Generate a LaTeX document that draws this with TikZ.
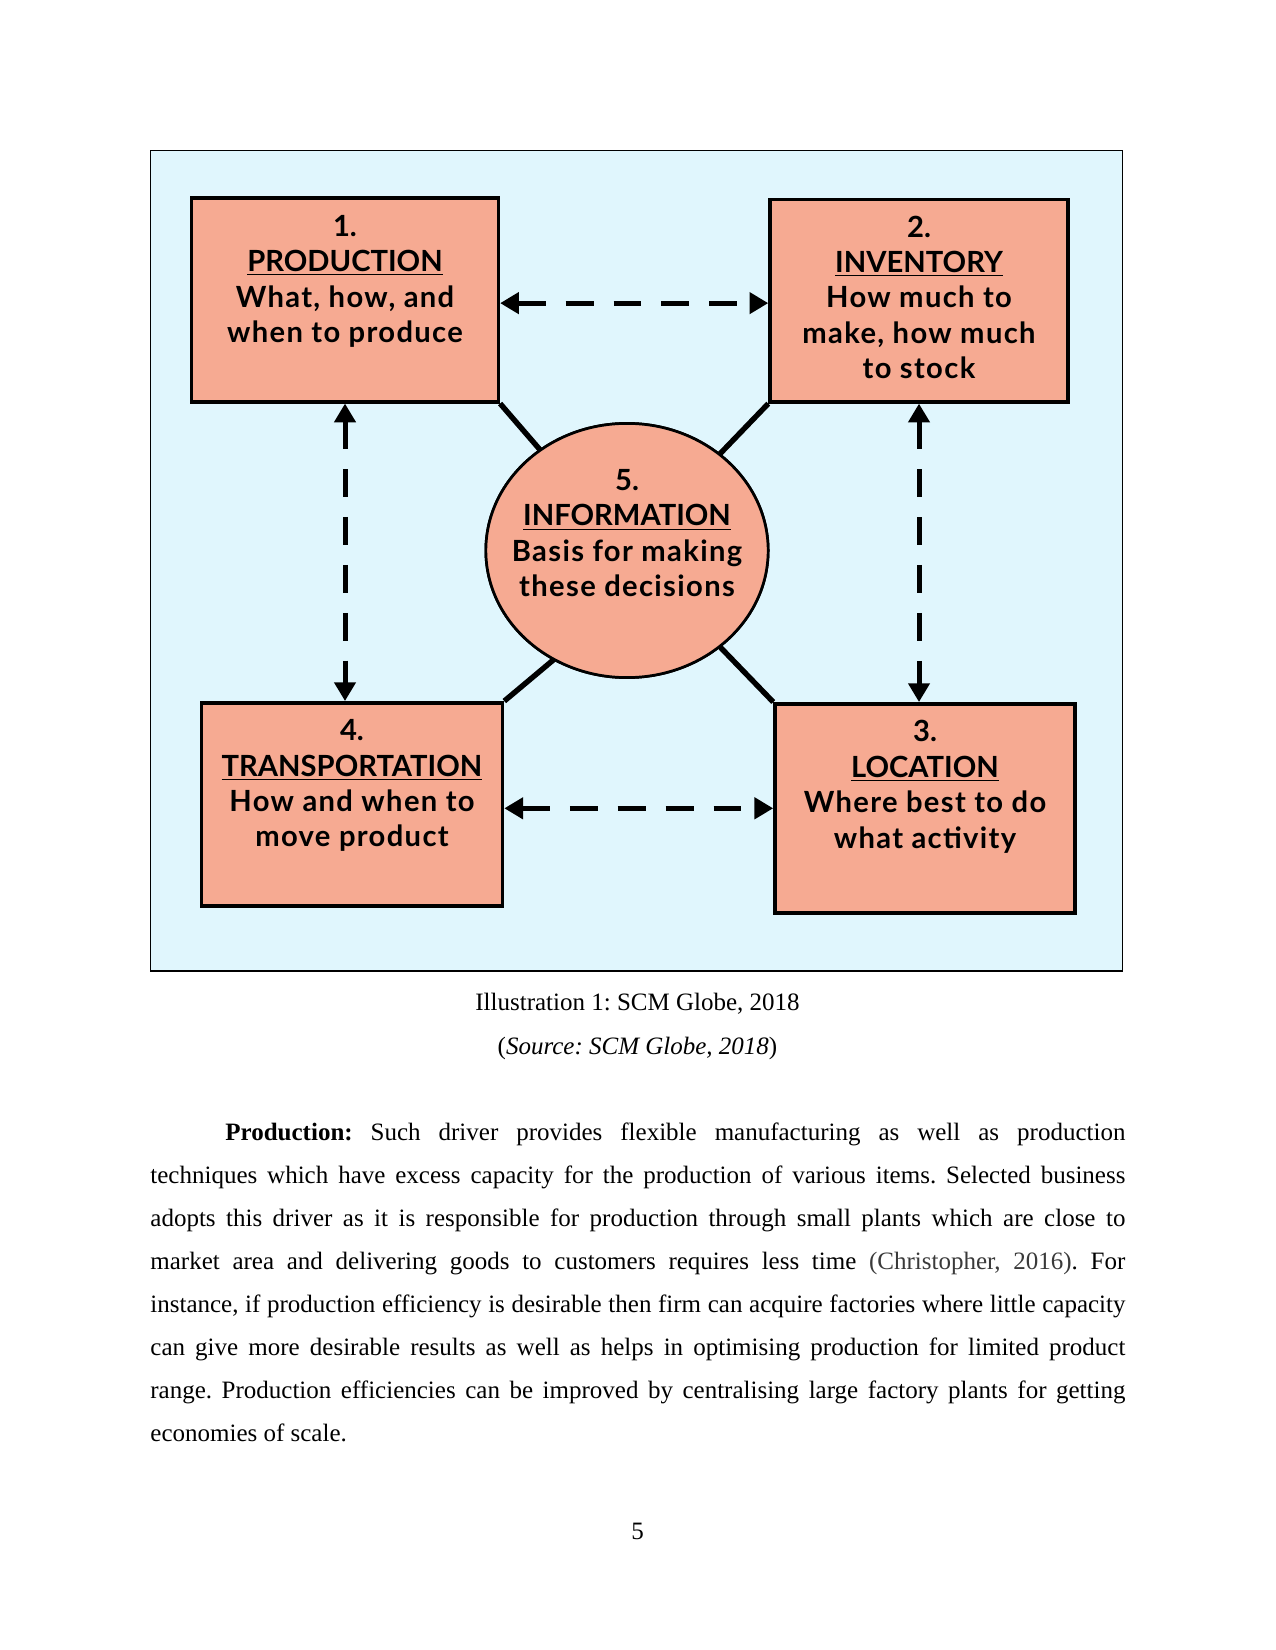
\documentclass[tikz,border=0pt]{standalone}
\usepackage{fontspec}
\setmainfont{Liberation Serif}
\newfontfamily\boxfont{Lato}
\usetikzlibrary{arrows.meta,shapes.geometric}
\definecolor{bgblue}{HTML}{E0F6FD}
\definecolor{salmon}{HTML}{F6AA92}
\definecolor{citegray}{HTML}{3A3A3A}
\newcommand\dsc[1]{{\addfontfeature{LetterSpace=4.6}#1}}
\begin{document}
\frenchspacing
\begin{tikzpicture}[x=0.48pt,y=-0.48pt,
  box/.style={draw=black, line width=1.7pt, fill=salmon, rectangle, inner sep=0pt},
  infocircle/.style={draw=black, line width=1.3pt, fill=salmon, ellipse, inner sep=0pt},
  btext/.style={font=\boxfont\bfseries\fontsize{14}{17}\selectfont, align=center, inner sep=0pt, anchor=north, text=black},
  conn/.style={line width=2.6pt},
  dasharrow/.style={line width=2.4pt, dash pattern=on 13.4pt off 9.6pt,
    {Triangle[length=9pt,width=10pt]}-{Triangle[length=9pt,width=10pt]}},
  ptext/.style={font=\fontsize{12}{14}\selectfont, inner sep=0pt, anchor=base west},
  ctext/.style={font=\fontsize{12}{14}\selectfont, inner sep=0pt, anchor=base}]
\useasboundingbox (0,0) rectangle (1275,1650);
\fill[white] (0,0) rectangle (1275,1650);
% frame
\draw[fill=bgblue, line width=0.8pt] (150.5,150.5) rectangle (1122.5,971);
% boxes
\node[box, minimum width=147.2pt, minimum height=97.9pt] (b1) at (345,299.8) {};
\node[box, minimum width=143pt, minimum height=97.1pt] (b2) at (919,300.7) {};
\node[box, minimum width=144.5pt, minimum height=97.6pt] (b4) at (352,804.5) {};
\node[box, minimum width=144pt, minimum height=100.3pt] (b3) at (925,808.3) {};
\node[infocircle, minimum width=135.5pt, minimum height=122pt] (info) at (627,550.5) {};
% solid connectors to the circle
\draw[conn, shorten >=-6pt] (b1.south east) -- (info);
\draw[conn, shorten >=-6pt] (b2.south west) -- (info);
\draw[conn, shorten >=-6pt] (b4.north east) -- (info.236);
\draw[conn, shorten >=-6pt] (b3.north west) -- (info);
\node[infocircle, minimum width=135.5pt, minimum height=122pt] (info2) at (info.center) {};
% texts
\node[btext] (t1) at ([yshift=-9pt]b1.north) {1.\\\underline{PRODUCTION}\\\dsc{What, how, and}\\\dsc{when to produce}};
\node[btext] (t2) at ([yshift=-8.4pt]b2.north) {2.\\\underline{INVENTORY}\\\dsc{How much to}\\\dsc{make, how much}\\\dsc{to stock}};
\node[btext] (t4) at ([yshift=-8.7pt]b4.north) {4.\\\underline{TRANSPORTATION}\\\dsc{How and when to}\\\dsc{move product}};
\node[btext] (t3) at ([yshift=-8.7pt]b3.north) {3.\\\underline{LOCATION}\\\dsc{Where best to do}\\\dsc{what activity}};
\node[btext] (t5) at ([yshift=-22.5pt]info.north) {5.\\\underline{INFORMATION}\\\dsc{Basis for making}\\\dsc{these decisions}};
% dashed arrows
\draw[dasharrow] ([yshift=-1.6pt]b1.east) -- ([yshift=-1.6pt]b1.east -| b2.west);
\draw[dasharrow] (b1.south) -- (b1.south |- b4.north);
\draw[dasharrow] (b2.south) -- (b2.south |- b3.north);
\draw[dasharrow] (b4.east |- b3.west) -- (b3.west);
% caption
\node[ctext] (cap1) at (637.5,1010) {Illustration 1: SCM Globe, 2018};
\node[ctext] (cap2) at (637.5,1054) {(\textit{Source: SCM Globe, 2018})};
% paragraph
\node[ptext] (p1) at (150,1140) {\hbox to 468pt{\hskip36pt\textbf{Production:} Such driver provides flexible manufacturing as well as production}};
\node[ptext] (p2) at (150,1183.1) {\hbox to 468pt{techniques which have excess capacity for the production of various items. Selected business}};
\node[ptext] (p3) at (150,1226.2) {\hbox to 468pt{adopts this driver as it is responsible for production through small plants which are close to}};
\node[ptext] (p4) at (150,1269.3) {\hbox to 468pt{market area and delivering goods to customers requires less time {\color{citegray}(Christopher, 2016)}. For}};
\node[ptext] (p5) at (150,1312.4) {\hbox to 468pt{instance, if production efficiency is desirable then firm can acquire factories where little capacity}};
\node[ptext] (p6) at (150,1355.5) {\hbox to 468pt{can give more desirable results as well as helps in optimising production for limited product}};
\node[ptext] (p7) at (150,1398.6) {\hbox to 468pt{range. Production efficiencies can be improved by centralising large factory plants for getting}};
\node[ptext] (p8) at (150,1441.7) {economies of scale.};
% page number
\node[ctext] (pg) at (637.5,1539) {5};
\end{tikzpicture}
\end{document}
